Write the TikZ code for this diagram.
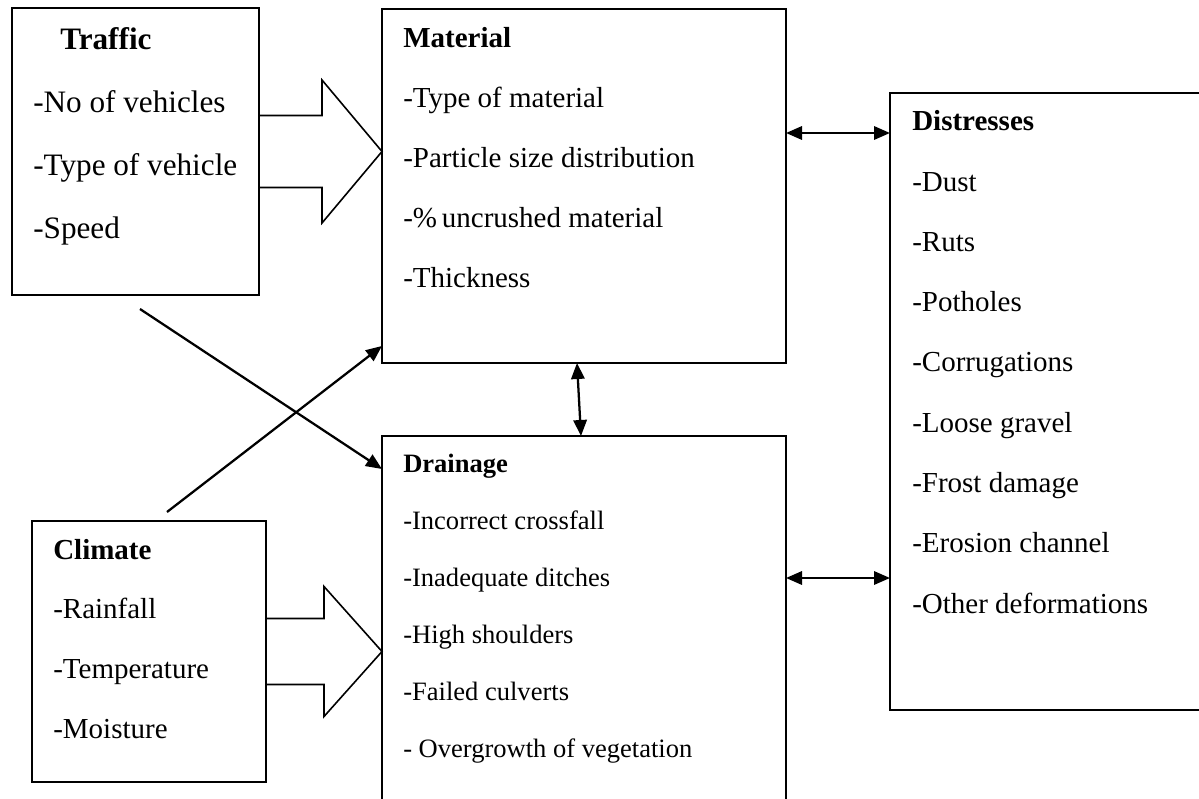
\documentclass[tikz,border=0pt]{standalone}
\usepackage{fontspec}
\setmainfont{Liberation Serif}
\usetikzlibrary{
  arrows.meta,
  positioning,
  calc
}

% open block arrow from one box into the next
\newcommand{\blockarrow}[5]{%
  \draw[fatarrow] ($(#1.east)+(0,-#3)$) -| ($(#1.east -| #2.west)+(-#5,-#4)$)
    -- (#1.east -| #2.west) -- ++(-#5,#4) |- ($(#1.east)+(0,#3)$);
}

\begin{document}
\begin{tikzpicture}[
  x=0.75pt, y=-0.75pt,
  box/.style={
    rectangle, draw=black, line width=1.3pt,
    inner sep=0pt, outer sep=0pt
  },
  txt/.style={
    anchor=base west, align=left, inner sep=0pt
  },
  arr/.style={
    -{Triangle[length=12pt,width=10pt]}, line width=1.7pt
  },
  dblarr/.style={
    {Triangle[length=12pt,width=10pt]}-{Triangle[length=12pt,width=10pt]},
    line width=1.7pt
  },
  fatarrow/.style={
    draw=black, line width=1.2pt, line join=miter
  }
]
  \useasboundingbox (0,0) rectangle (1199,799);
  \clip (0,0) rectangle (1199,799);

  \node[box, minimum width=185.25pt, minimum height=215.25pt] (traffic) at (135.5,151.5) {};
  \node[box, minimum width=303pt, minimum height=265.5pt] (material) at (584,186) {};
  \node[box, minimum width=303pt, minimum height=295.5pt,
    below=54.75pt of material] (drainage) {};
  \node[box, minimum width=240pt, minimum height=462.75pt] (distresses) at (1050,401.5) {};
  \node[box, minimum width=175.5pt, minimum height=195.75pt] (climate) at (149,651.5) {};

  % box contents (placed by the baseline of the last line)
  \node[txt, font=\fontsize{23.4}{47.25}\selectfont] (traffic-txt)
    at ($(traffic.north west)+(21,230)$)
    {\hspace*{20.25pt}\textbf{Traffic}\\-No of vehicles\\-Type of vehicle\\-Speed};
  \node[txt, font=\fontsize{21.75}{45}\selectfont] (material-txt)
    at ($(material.north west)+(21,278)$)
    {\textbf{Material}\\-Type of material\\-Particle size distribution\\
     -\%\,uncrushed material\\-Thickness};
  \node[txt, font=\fontsize{21.75}{45.19}\selectfont] (distresses-txt)
    at ($(distresses.north west)+(22,520)$)
    {\textbf{Distresses}\\-Dust\\-Ruts\\-Potholes\\-Corrugations\\-Loose gravel\\
     -Frost damage\\-Erosion channel\\-Other deformations};
  \node[txt, font=\fontsize{19.9}{42.75}\selectfont] (drainage-txt)
    at ($(drainage.north west)+(21,321)$)
    {\textbf{Drainage}\\-Incorrect crossfall\\-Inadequate ditches\\-High shoulders\\
     -Failed culverts\\- Overgrowth of vegetation};
  \node[txt, font=\fontsize{21.75}{44.75}\selectfont] (climate-txt)
    at ($(climate.north west)+(21,217)$)
    {\textbf{Climate}\\-Rainfall\\-Temperature\\-Moisture};

  % block arrows
  \blockarrow{traffic}{material}{36}{71.5}{60}
  \blockarrow{climate}{drainage}{33}{65}{58}

  \draw[dblarr] ($(material.east)+(0,-53)$) -- ($(material.east -| distresses.west)+(0,-53)$);
  \draw[dblarr] ($(drainage.east)+(0,-55)$) -- ($(drainage.east -| distresses.west)+(0,-55)$);
  \draw[dblarr] ($(material.south)+(-7,0)$) -- ($(drainage.north)+(-3,0)$);

  % crossing arrows
  \draw[arr] ($(traffic.south)+(4.5,14)$) -- ($(drainage.north west)+(0,33)$);
  \draw[arr] ($(climate.north)+(18,-9)$) -- ($(material.south west)+(0,-17)$);
\end{tikzpicture}
\end{document}
